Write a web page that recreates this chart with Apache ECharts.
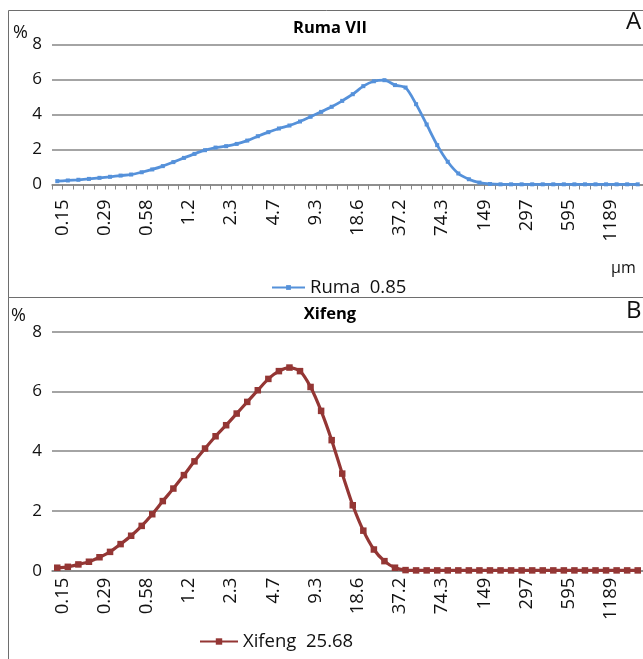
<!DOCTYPE html>
<html>
<head>
<meta charset="utf-8">
<script src="https://cdn.jsdelivr.net/npm/echarts@6/dist/echarts.min.js"></script>
<style>
html,body{margin:0;padding:0;background:#fff;}
#c{width:643px;height:659px;}
</style>
</head>
<body>
<div id="c"></div>
<script>
const sizes = ['0.15','0.17','0.21','0.24','0.29','0.35','0.41','0.49','0.58','0.69','0.82','0.98','1.2','1.38','1.64','1.95','2.3','2.76','3.28','3.91','4.7','5.52','6.57','7.81','9.3','11.1','13.1','15.6','18.6','22.1','26.3','31.3','37.2','44.2','52.6','62.5','74.3','88.4','105','125','149','177','210','250','297','354','420','500','595','707','841','1000','1189','1414','1682','2000'];
const ruma = [0.19,0.23,0.27,0.32,0.38,0.44,0.51,0.57,0.70,0.86,1.05,1.28,1.52,1.75,1.96,2.11,2.19,2.32,2.51,2.76,2.99,3.2,3.37,3.6,3.87,4.15,
  4.44,4.78,5.16,5.62,5.9,5.96,5.68,5.54,4.59,3.43,2.25,1.30,0.63,0.30,0.11,0.03,
  0.01,0.01,0.01,0.01,0.01,0.01,0.01,0.01,0.01,0.01,0.01,0.01,0.01,0.01];
const xifeng = [0.10,0.13,0.21,0.30,0.45,0.63,0.89,1.17,1.50,1.89,2.33,2.75,3.20,3.66,4.09,4.50,4.87,5.26,5.65,6.04,
  6.42,6.68,6.80,6.68,6.15,5.35,4.37,3.25,2.19,1.34,0.71,0.32,0.10,0.02,
  0.01,0.01,0.01,0.01,0.01,0.01,0.01,0.01,0.01,0.01,0.01,0.01,0.01,0.01,0.01,0.01,0.01,0.01,0.01,0.01,0.01,0.01];
const yTicks = [0,2,4,6,8];
const rumaName = 'Ruma  0.85';
const xifengName = 'Xifeng  25.68';
const titles = ['Ruma VII','Xifeng'];

const FONT = '"Open Sans", "Noto Sans", sans-serif';
const chart = echarts.init(document.getElementById('c'), null, {renderer:'canvas'});

function xAxis(gi, ticks, margin){
  return {
    type:'category', gridIndex:gi, data:sizes, boundaryGap:true,
    axisLine:{show:true, lineStyle:{color:'#868686', width:1.5}},
    axisTick:{show:ticks, interval:0, length:5, lineStyle:{color:'#868686', width:1}},
    axisLabel:{interval:3, rotate:90, margin:margin, fontSize:18.5, color:'#111', fontFamily:FONT,
      verticalAlign:'top', lineHeight:10}
  };
}
function yAxis(gi){
  return {
    type:'value', gridIndex:gi, min:yTicks[0], max:yTicks[yTicks.length-1], interval:2,
    axisLine:{show:false}, axisTick:{show:false},
    splitLine:{lineStyle:{color:'#868686', width:1.5}},
    axisLabel:{fontSize:17, color:'#111', margin:10, fontFamily:FONT}
  };
}

chart.setOption({
  animation:false,
  title:[
    {text:titles[0], left:325, top:15, textAlign:'center', textStyle:{fontSize:16.5, fontWeight:'bold', color:'#000', fontFamily:FONT}},
    {text:titles[1], left:325, top:301, textAlign:'center', textStyle:{fontSize:16.5, fontWeight:'bold', color:'#000', fontFamily:FONT}}
  ],
  legend:[
    {data:[rumaName], left:266, top:273, itemWidth:33, itemHeight:6, itemGap:4, textStyle:{fontSize:18.5, color:'#111', fontFamily:FONT}},
    {data:[xifengName], left:194, top:627, itemWidth:38, itemHeight:8, itemGap:6, textStyle:{fontSize:18.5, color:'#111', fontFamily:FONT}}
  ],
  grid:[
    {left:52, right:0, top:44.5, height:140},
    {left:52, right:0, top:331.7, height:239}
  ],
  xAxis:[xAxis(0,true,15), xAxis(1,false,7)],
  yAxis:[yAxis(0), yAxis(1)],
  series:[
    {name:rumaName, type:'line', xAxisIndex:0, yAxisIndex:0, data:ruma, smooth:0.25,
     symbol:'rect', symbolSize:4, showAllSymbol:true,
     itemStyle:{color:'#5591DA'}, lineStyle:{color:'#5591DA', width:2.8}},
    {name:xifengName, type:'line', xAxisIndex:1, yAxisIndex:1, data:xifeng, smooth:0.25,
     symbol:'rect', symbolSize:6.5, showAllSymbol:true,
     itemStyle:{color:'#943634'}, lineStyle:{color:'#943634', width:3.2}}
  ],
  graphic:[
    {type:'rect', shape:{x:8.5, y:10.5, width:700, height:287}, style:{fill:'none', stroke:'#6e6e6e', lineWidth:1}},
    {type:'rect', shape:{x:8.5, y:297.5, width:700, height:400}, style:{fill:'none', stroke:'#6e6e6e', lineWidth:1}},
    {type:'text', x:13, y:24, style:{text:'%', fontSize:18, fill:'#111', fontFamily:FONT}},
    {type:'text', x:11, y:307, style:{text:'%', fontSize:18, fill:'#111', fontFamily:FONT}},
    {type:'text', x:626, y:10, style:{text:'A', fontSize:24, fill:'#111', fontFamily:FONT}},
    {type:'text', x:626, y:299, style:{text:'B', fontSize:24, fill:'#111', fontFamily:FONT}},
    {type:'text', x:611, y:260, style:{text:'µm', fontSize:16, fill:'#111', fontFamily:FONT}}
  ]
});
</script>
</body>
</html>
